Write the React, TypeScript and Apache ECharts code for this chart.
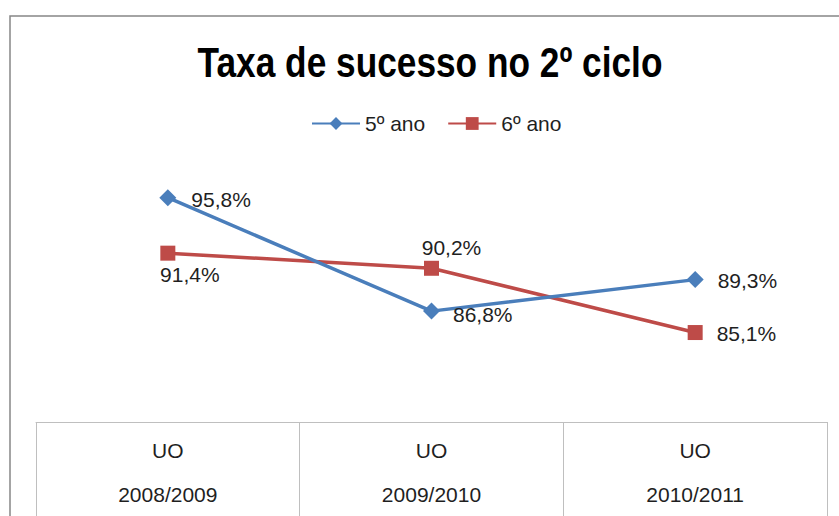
import React, { useEffect, useRef } from "react";
import * as echarts from "echarts";

const categories = ["UO\n\n2008/2009", "UO\n\n2009/2010", "UO\n\n2010/2011"];
const series5 = [95.8, 86.8, 89.3];
const series6 = [91.4, 90.2, 85.1];
const seriesNames = ["5º ano", "6º ano"];
const titleText = "Taxa de sucesso no 2º ciclo";

const FONT = "'Liberation Sans', Arial, sans-serif";
const fmt = (v: number) => v.toFixed(1).replace(".", ",") + "%";

export default function App() {
  const ref = useRef<HTMLDivElement>(null);
  useEffect(() => {
    if (!ref.current) return;
    const chart = echarts.init(ref.current, undefined, { renderer: "svg" });
    const labelBase = {
      show: true,
      fontFamily: FONT,
      fontSize: 21,
      color: "#1f1f1f",
      formatter: (p: any) => fmt(p.value),
    };
    const lab5 = [
      { position: "right", distance: 15, offset: [0, 2] },
      { position: "right", distance: 13, offset: [0, 3] },
      { position: "right", distance: 14, offset: [0, 1] },
    ];
    const lab6 = [
      { position: "bottom", distance: 3, offset: [22, 0] },
      { position: "top", distance: 3, offset: [20, 0] },
      { position: "right", distance: 14, offset: [0, 1] },
    ];
    chart.setOption({
      animation: false,
      backgroundColor: "#ffffff",
      legend: {
        left: 311,
        top: 113,
        padding: 0,
        itemWidth: 48,
        itemHeight: 16,
        itemGap: 22,
        textStyle: { fontFamily: FONT, fontSize: 21, color: "#1f1f1f" },
        data: seriesNames,
      },
      graphic: [
        {
          type: "rect",
          shape: { x: 10, y: 16, width: 900, height: 600 },
          style: { fill: "none", stroke: "#868686", lineWidth: 1.5 },
          silent: true,
        },
        {
          type: "text",
          x: 430,
          y: 62,
          scaleX: 0.82,
          style: {
            text: titleText,
            x: 0,
            y: 0,
            align: "center",
            verticalAlign: "middle",
            fontFamily: FONT,
            fontSize: 43,
            fontWeight: "bold",
            fill: "#000",
          },
          silent: true,
        },
      ],
      grid: { left: 36, right: 12, top: 170, bottom: 94 },
      xAxis: {
        type: "category",
        data: categories,
        boundaryGap: true,
        axisLine: { show: true, lineStyle: { color: "#bfbfbf", width: 1 } },
        axisTick: { show: true, interval: 0, length: 100, lineStyle: { color: "#bfbfbf", width: 1 } },
        axisLabel: {
          interval: 0,
          margin: 17,
          fontFamily: FONT,
          fontSize: 21,
          lineHeight: 22,
          color: "#1f1f1f",
        },
        splitLine: { show: false },
      },
      yAxis: {
        type: "value",
        min: 78,
        max: 98,
        show: false,
        splitLine: { show: false },
      },
      series: [
        {
          name: seriesNames[0],
          type: "line",
          data: series5.map((v, i) => ({ value: v, label: { ...labelBase, ...lab5[i] } })),
          symbol: "diamond",
          symbolSize: 17,
          color: "#4a7ebb",
          lineStyle: { width: 3.5, color: "#4a7ebb" },
          itemStyle: { color: "#4a7ebb" },
          label: labelBase,
          z: 3,
        },
        {
          name: seriesNames[1],
          type: "line",
          data: series6.map((v, i) => ({ value: v, label: { ...labelBase, ...lab6[i] } })),
          symbol: "rect",
          symbolSize: 15,
          color: "#be4b48",
          lineStyle: { width: 3.5, color: "#be4b48" },
          itemStyle: { color: "#be4b48" },
          label: labelBase,
          z: 2,
        },
      ],
    });
    return () => chart.dispose();
  }, []);
  return (
    <div
      ref={ref}
      style={{ position: "fixed", left: 0, top: 0, width: 839, height: 516, background: "#fff" }}
    />
  );
}
